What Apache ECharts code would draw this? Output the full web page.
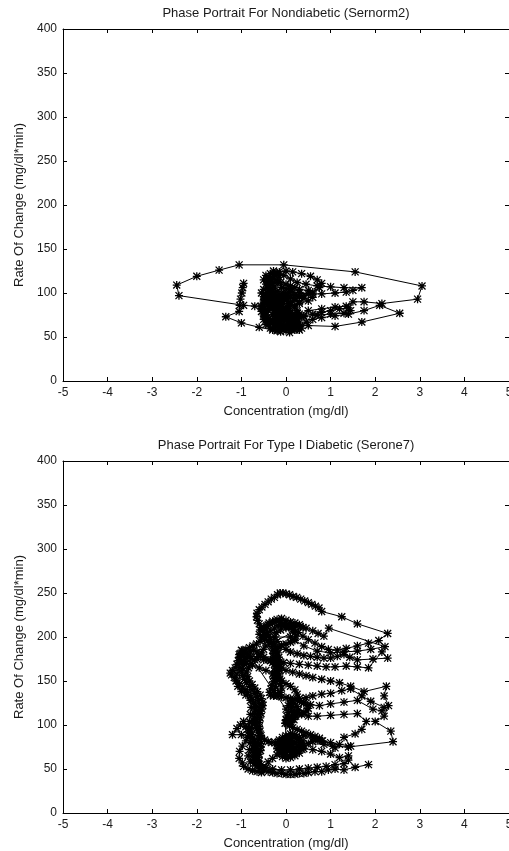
<!DOCTYPE html>
<html>
<head>
<meta charset="utf-8">
<script src="https://cdn.jsdelivr.net/npm/echarts@6/dist/echarts.min.js"></script>
<style>
  html, body { margin: 0; padding: 0; background: #fff; overflow: hidden; }
  #chart { width: 509px; height: 851px; }
</style>
</head>
<body>
<div id="chart"></div>
<script>
// Axis ranges and tick steps (shared by both panels)
var concTicks = [-5, -4, -3, -2, -1, 0, 1, 2, 3, 4, 5];
var rateTicks = [0, 50, 100, 150, 200, 250, 300, 350, 400];

var titles = [
  'Phase Portrait For Nondiabetic (Sernorm2)',
  'Phase Portrait For Type I Diabetic (Serone7)'
];
var xName = 'Concentration (mg/dl)';
var yName = 'Rate Of Change (mg/dl*min)';

// Nondiabetic trajectory: [concentration, rate of change]
var nondiabetic = [
  [-0.95,111],[-0.97,106],[-0.99,100],[-1.02,93],[-1.04,86],[-1.05,79],[-1.35,73],[-1.0,66],
  [-0.6,61],[-0.3,58],[-0.12,56],[0.08,55],[0.2,58],[0.3,62],[0.45,67],[0.6,70],[0.8,72],
  [1.1,74],[1.4,76],[1.75,80],[2.1,86],[2.55,77],[1.7,67],[1.1,62],[0.5,63],[0.1,64],
  [-0.2,66],[-0.4,70],[-0.5,76],[-0.55,83],[-0.5,90],[-0.45,97],[-0.4,104],[-0.35,110],
  [-0.3,116],[-0.25,121],[-0.15,124],[0.0,125],[0.15,124],[0.35,122],[0.55,119],[0.7,115],
  [0.8,111],[0.75,106],[0.6,101],[0.4,97],[0.2,94],[0.0,92],[-0.2,90],[-0.35,86],[-0.45,81],
  [-0.45,75],[-0.4,70],[-0.3,65],[-0.15,61],[0.0,60],[0.1,62],[0.2,66],[0.25,71],[0.3,76],
  [0.5,80],[0.8,82],[1.1,84],[1.35,85],[1.5,90],[1.75,90],[2.15,88],[2.95,93],[3.05,108],
  [1.55,124],[-0.05,132],[-1.05,132],[-1.5,126],[-2.0,119],[-2.45,109],[-2.4,97],[-0.95,86],
  [-0.7,85],[-0.5,85],[-0.3,84],[-0.15,82],[-0.05,79],[0.0,75],[-0.05,71],[-0.15,68],
  [-0.3,67],[-0.4,70],[-0.5,74],[-0.55,79],[-0.55,85],[-0.5,92],[-0.45,99],[-0.4,106],
  [-0.35,112],[-0.3,118],[-0.2,122],[-0.05,120],[0.1,116],[0.25,112],[0.45,110],[0.7,108],
  [1.0,107],[1.3,106],[1.7,106],[1.5,103],[1.35,101],[1.1,100],[0.8,99],[0.5,99],[0.3,100],
  [0.1,101],[-0.05,100],[-0.2,97],[-0.3,93],[-0.35,88],[-0.3,83],[-0.2,79],[-0.1,76],
  [0.05,74],[0.2,73],[0.4,74],[0.6,76],[0.8,78],[1.0,80],[1.2,82],[1.4,83],[1.45,80],
  [1.3,77],[1.0,76],[0.7,75],[0.4,73],[0.2,70],[0.1,66],[0.0,62],[-0.1,59],[-0.2,58],
  [-0.3,60],[-0.4,64],[-0.45,69],[-0.45,75],[-0.4,81],[-0.3,87],[-0.2,92],[-0.1,96],
  [0.0,99],[0.1,102],[0.3,104],[0.5,103],[0.6,99],[0.6,95],[0.5,91],[0.3,88],[0.1,86],
  [-0.1,84],[-0.25,80],[-0.3,75],[-0.3,70],[-0.2,66],[-0.1,64],[0.05,65],[0.15,68],
  [0.2,72],[0.15,76],[0.05,79],[-0.1,80],[-0.2,78],[-0.25,74],[-0.2,70],[-0.1,68],
  [0.0,70],[0.05,73],[0.0,76],[-0.1,77],[-0.15,75],[-0.1,72],[-0.05,71],
  [-0.3,100],[-0.35,104],[-0.4,108],[-0.42,113],[-0.4,118],[-0.35,122],[-0.28,125],[-0.2,123],
  [-0.15,118],[-0.18,112],[-0.25,107],[-0.3,102],[-0.35,97],[-0.42,93],[-0.48,88],[-0.5,82],
  [-0.48,77],[-0.42,72],[-0.35,68],[-0.25,64],[-0.15,62],[-0.05,62],[0.05,60],[0.12,58],
  [0.2,60],[0.25,64],[0.22,68],[0.15,72],[0.08,76],[0.0,80],[-0.1,84],[-0.2,88],[-0.25,92],
  [-0.22,96],[-0.15,98],[-0.05,96],[0.02,92],[0.05,88],[0.02,84],[-0.05,81],[-0.15,80],
  [-0.25,82],[-0.35,84],[-0.4,88],[-0.38,93],[-0.3,96],[-0.2,95],[-0.12,91],[-0.1,87],
  [-0.15,84],[-0.25,86],[-0.3,90],[-0.5,70],[-0.45,64],[-0.35,60],[-0.2,57],[0.0,57],
  [0.15,62],[0.25,68],[0.28,74],[0.25,80],[0.18,85],[0.1,89],[0.2,92],[0.1,95],[0.0,94],
  [-0.1,91],[-0.2,86],[-0.25,80],[-0.2,74],[-0.1,70],[0.0,68],[0.1,70],[0.12,75],[0.08,80],
  [0.0,83],[-0.1,85],[-0.45,110],[-0.5,115],[-0.45,120],[-0.38,116],[-0.3,111],[-0.22,115],
  [-0.12,112],[0.0,110],[0.1,108],[0.2,106],[0.1,104],[0.0,105],[-0.1,106],[-0.2,102],
  [-0.3,97],[-0.4,95],[-0.5,96],[-0.55,100],[-0.5,104],[-0.4,100],[-0.3,92],[-0.2,83],
  [-0.1,78],[0.0,72],[0.1,66],[0.2,62],[0.3,58],[0.35,60],[0.3,66],[0.25,78],[0.2,84],
  [0.3,90],[0.4,94],[0.3,96],[0.2,98],[0.05,97],[-0.1,93]
];

// Type I diabetic trajectory: [concentration, rate of change]
var diabetic = [
  [1.85,55],[1.55,52],[1.3,49],[1.1,50],[0.95,49],[0.8,47],[0.65,47],[0.5,46],[0.4,45],
  [0.3,45],[0.2,44],[0.1,44],[0.0,44],[-0.1,45],[-0.2,45],[-0.3,46],[-0.4,47],[-0.5,49],
  [-0.58,51],[-0.65,54],[-0.7,57],[-0.73,61],[-0.74,65],[-0.73,69],[-0.72,73],[-0.72,77],
  [-0.73,81],[-0.75,85],[-0.77,89],[-0.78,93],[-0.77,97],[-0.75,101],[-0.73,105],[-0.71,109],
  [-0.7,113],[-0.69,117],[-0.7,121],[-0.72,125],[-0.76,129],[-0.8,133],[-0.86,137],[-0.92,140],
  [-0.98,143],[-1.04,147],[-1.1,151],[-1.16,154],[-1.22,157],[-1.25,159],[-1.2,162],[-1.14,165],
  [-1.1,169],[-1.07,173],[-1.05,177],[-1.03,181],[-0.97,184],[-0.9,186],[-0.82,188],[-0.74,190],
  [-0.66,192],[-0.58,195],[-0.52,199],[-0.5,203],[-0.52,207],[-0.56,211],[-0.6,215],[-0.64,219],
  [-0.66,223],[-0.65,227],[-0.6,231],[-0.54,234],[-0.47,237],[-0.4,240],[-0.33,243],[-0.26,245],
  [-0.19,248],[-0.13,250],[-0.07,250],[0.0,249],[0.08,248],[0.16,246],[0.24,245],[0.33,243],
  [0.42,241],[0.5,239],[0.58,237],[0.66,235],[0.74,233],[0.8,229],[1.25,223],[1.6,215],
  [2.28,204],[2.08,196],
  [1.85,193],[1.6,190],[1.35,187],[1.15,185],[0.95,186],[0.8,189],[0.65,193],[0.5,197],
  [0.38,201],[0.28,205],[0.18,209],[0.08,212],[-0.02,215],[-0.12,217],[-0.22,218],[-0.3,218],
  [-0.38,216],[-0.43,213],[-0.45,209],[-0.42,205],[-0.38,201],[-0.35,197],[-0.33,193],[-0.31,189],
  [-0.3,185],[-0.29,181],[-0.28,177],[-0.27,173],[-0.26,169],[-0.25,165],[-0.25,161],[-0.26,157],
  [-0.27,153],[-0.29,149],[-0.31,145],[-0.34,141],[-0.37,137],[-0.35,134],[-0.28,133],[-0.2,133],
  [-0.1,132],[0.0,131],[0.1,130],[0.2,129],[0.3,127],[0.4,125],[0.47,122],[0.5,119],[0.47,116],
  [0.4,114],[0.3,113],[0.2,112],[0.12,110],[0.05,108],[0.02,105],[0.03,102],[0.08,99],[0.15,97],
  [0.25,95],[0.35,93],[0.45,91],[0.55,89],[0.65,87],[0.75,85],[0.82,82],[1.05,76],[1.4,75],
  [2.4,81],[2.35,93],[2.0,104],[2.2,110],[2.3,122],[2.2,133],[2.25,144],
  [1.75,138],[1.45,144],[1.2,148],[1.0,150],[0.8,152],[0.6,154],[0.45,156],[0.3,158],[0.15,160],
  [0.0,162],[-0.1,165],[-0.2,168],[-0.3,171],[-0.4,174],[-0.5,177],[-0.58,180],[-0.65,183],
  [-0.72,185],[-0.8,183],[-0.86,180],[-0.9,176],[-0.93,172],[-0.96,168],[-0.98,164],[-0.99,160],
  [-0.97,156],[-0.93,152],[-0.88,148],[-0.82,144],[-0.76,140],[-0.7,136],[-0.65,132],[-0.62,128],
  [-0.6,124],[-0.6,120],[-0.61,116],[-0.63,112],[-0.65,108],[-0.66,104],[-0.66,100],[-0.65,96],
  [-0.63,92],[-0.6,88],[-0.55,85],[-0.48,83],[-0.4,81],[-0.32,80],[-0.24,80],[-0.16,81],
  [-0.08,83],[0.0,85],[0.08,87],[0.16,87],[0.24,85],[0.3,82],[0.33,78],[0.32,74],[0.28,71],
  [0.2,68],[0.12,66],[0.04,65],[-0.04,66],[-0.1,69],[-0.13,72],[-0.12,76],[-0.06,79],[0.02,80],
  [0.1,79],[0.15,76],[0.14,72],[0.08,70],[0.02,71],[0.2,72],[0.4,73],[0.6,72],[0.8,70],
  [1.0,67],[1.2,63],[1.4,65],[1.4,60],[1.3,56],[1.1,55],[0.9,53],[0.7,52],[0.5,51],[0.3,50],
  [0.1,49],[-0.1,49],[-0.3,50],[-0.45,52],[-0.55,55],[-0.6,59],[-0.62,63],[-0.6,67],[-0.57,71],
  [-0.56,75],[-0.57,79],
  [-0.7,83],[-0.85,86],[-1.0,89],[-1.2,89],[-1.1,96],[-1.02,100],[-0.95,104],[-0.9,98],
  [-0.85,92],[-0.9,82],[-0.98,76],[-1.04,70],[-1.05,62],[-0.98,57],[-0.95,53],[-0.85,50],
  [-0.75,48],[-0.65,47],[-0.55,46],
  [-0.4,58],[-0.3,62],[-0.2,66],[-0.1,72],[-0.05,77],[0.05,82],[0.2,86],[0.4,88],[0.6,85],
  [0.8,82],[1.0,80],[1.2,78],[1.45,76],[1.3,86],[1.55,90],[1.7,95],[1.8,104],[1.6,113],
  [1.3,112],[1.0,111],[0.7,110],[0.5,110],[0.35,112],[0.2,116],[0.12,120],[0.1,124],[0.15,128],
  [0.3,130],[0.45,131],[0.6,133],[0.8,135],[1.0,136],[1.25,139],[1.45,141],[1.7,133],[1.9,127],
  [2.2,120],[2.15,116],[1.95,118],
  [1.6,128],[1.3,126],[1.0,124],[0.75,122],[0.55,123],[0.4,126],[0.3,130],[0.25,135],[0.2,140],
  [0.1,144],[0.0,147],[-0.1,150],[-0.2,154],[-0.3,158],[-0.45,162],[-0.6,165],[-0.75,168],
  [-0.88,170],[-1.0,172],[-1.05,180],[-0.95,178],[-0.8,176],[-0.65,175],[-0.5,174],[-0.35,173],
  [-0.2,172],[-0.05,171],[0.1,170],[0.3,169],[0.5,168],[0.7,167],[0.9,166],[1.1,166],[1.35,167],
  [1.6,166],[1.85,165],[2.15,183],[2.28,176],[1.95,175],[1.6,174],[1.43,177],[1.3,180],[1.15,178],
  [1.0,176],[0.85,176],[0.7,177],[0.55,178],[0.4,179],[0.25,181],[0.1,183],[0.0,186],[-0.1,190],
  [-0.2,195],[-0.25,200],[-0.22,205],[-0.12,208],[0.0,210],[0.12,212],[0.22,213],[0.32,212],
  [0.45,210],[0.6,207],[0.72,204],[0.85,201],[0.96,210],[2.22,189],
  [1.9,186],[1.6,184],[1.3,183],[1.0,182],[0.7,184],[0.4,190],[0.2,196],[0.1,200],
  [-0.5,200],[-0.42,203],[-0.34,207],[-0.26,210],[-0.18,213],[-0.1,214],[-0.02,213],[0.06,211],
  [0.14,208],[0.2,205],[0.22,201],[0.18,197],[0.1,194],[0.0,192],[-0.1,191],[-0.18,188],
  [-0.22,184],[-0.22,179],[-0.2,174],[-0.18,169],[-0.17,164],[-0.18,159],[-0.2,154],[-0.22,149],
  [-0.24,144],[-0.26,139],[-0.24,135],[-0.18,134],[-0.12,137],[-0.1,142],[-0.12,147],[-0.14,152],
  [-0.15,157],[-0.14,162],[-0.13,167],[-0.14,172],[-0.16,177],[-0.18,182],[-0.2,187],[-0.25,191],
  [-0.32,194],[-0.4,196],[-0.48,197],[-0.55,199],[-0.6,203],[-0.58,208],[-0.5,211],[-0.4,214],
  [-0.3,216],[-0.2,220],[-0.1,221],[0.0,219],[0.1,217],[0.2,216],[0.3,214],[0.38,211],
  [-0.45,190],[-0.5,186],[-0.55,182],[-0.62,178],[-0.7,174],[-0.78,170],[-0.84,165],[-0.88,160],
  [-0.86,155],[-0.82,150],[-0.76,146],[-0.7,142],[-0.64,138],[-0.58,134],[-0.55,130],[-0.52,126],
  [-0.52,122],[-0.54,118],[-0.56,113],[-0.58,108],[-0.6,103],[-0.6,98],[-0.58,93],[-0.56,88],
  [-0.6,84],[-0.65,80],[-0.68,76],[-0.67,72],[-0.65,68],[-0.67,64],[-0.7,60],[-0.68,56],
  [-0.62,53],[-0.55,51],[-0.8,58],[-0.85,65],[-0.82,72],[-0.8,80],[-0.82,88],[-0.84,96],
  [-0.82,104],[-0.8,112],[-0.78,120],[-0.8,128],[-0.9,134],[-1.0,138],[-1.08,144],[-1.12,150],
  [-1.1,158],[-1.05,165],[-1.0,172],[-1.0,185],[-0.9,182],[-0.8,178],
  [0.0,118],[0.05,122],[0.1,125],[0.18,124],[0.25,121],[0.28,117],[0.25,113],[0.2,110],
  [0.15,107],[0.1,104],[0.08,101],[0.12,103],[0.18,106],[0.22,110],[0.18,114],[0.12,116],
  [0.05,114],[0.02,110],[0.0,106],[-0.02,102],
  [0.0,88],[0.1,90],[0.2,89],[0.3,86],[0.38,82],[0.4,77],[0.36,72],[0.3,68],[0.2,65],[0.1,63],
  [0.0,62],[-0.08,64],[-0.15,68],[-0.2,73],[-0.2,78],[-0.15,83],[-0.08,86],[0.0,83],[0.05,78],
  [0.05,73],[0.0,69],[-0.05,72],[-0.05,76],[0.1,82],[0.2,80],[0.25,76],[0.22,72],[0.15,69],
  [0.1,73],[0.12,78],[0.3,78],[0.5,79],[0.6,81],[0.7,82],[0.85,78],[1.1,74]
];

var panels = [nondiabetic, diabetic];

// MATLAB-style asterisk marker built from four thin bars
var asterisk = 'path://M4.2,0L5.8,0L5.8,10L4.2,10Z M0,4.2L10,4.2L10,5.8L0,5.8Z ' +
  'M1.2,0.1L9.9,8.8L8.8,9.9L0.1,1.2Z M8.8,0.1L9.9,1.2L1.2,9.9L0.1,8.8Z';

var FONT = 'Liberation Sans, Arial, sans-serif';
var TXT = '#1a1a1a';
var gridTops = [29, 461];
var gridH = 352;

var chart = echarts.init(document.getElementById('chart'), null, { renderer: 'canvas' });

var grids = [], xAxes = [], yAxes = [], series = [], titleOpts = [];

panels.forEach(function (pts, i) {
  grids.push({
    left: 63, top: gridTops[i], width: 446, height: gridH,
    containLabel: false, outerBoundsMode: 'none'
  });

  titleOpts.push({
    text: titles[i],
    left: 286, top: gridTops[i] - 22, textAlign: 'center', padding: 0,
    textStyle: { fontFamily: FONT, fontSize: 13, fontWeight: 'normal', color: TXT }
  });

  var tickStyle = { show: true, inside: true, length: 4, lineStyle: { color: '#000', width: 1 } };
  // bottom concentration axis
  xAxes.push({
    type: 'value', gridIndex: i, position: 'bottom',
    min: concTicks[0], max: concTicks[concTicks.length - 1], interval: 1,
    name: xName, nameLocation: 'middle', nameGap: 24,
    nameTextStyle: { fontFamily: FONT, fontSize: 13, color: TXT },
    axisLine: { show: true, onZero: false, lineStyle: { color: '#000', width: 1 } },
    axisTick: tickStyle,
    axisLabel: { fontFamily: FONT, fontSize: 12, color: TXT, margin: 6, showMaxLabel: true, showMinLabel: true },
    splitLine: { show: false }
  });
  // top box edge with ticks
  xAxes.push({
    type: 'value', gridIndex: i, position: 'top',
    min: concTicks[0], max: concTicks[concTicks.length - 1], interval: 1,
    axisLine: { show: true, onZero: false, lineStyle: { color: '#000', width: 1 } },
    axisTick: tickStyle, axisLabel: { show: false }, splitLine: { show: false }
  });
  // left rate axis
  yAxes.push({
    type: 'value', gridIndex: i, position: 'left',
    min: rateTicks[0], max: rateTicks[rateTicks.length - 1], interval: 50,
    name: yName, nameLocation: 'middle', nameGap: 32,
    nameTextStyle: { fontFamily: FONT, fontSize: 13, color: TXT },
    axisLine: { show: true, onZero: false, lineStyle: { color: '#000', width: 1 } },
    axisTick: tickStyle,
    axisLabel: { fontFamily: FONT, fontSize: 12, color: TXT, margin: 6 },
    splitLine: { show: false }
  });
  // right box edge with ticks
  yAxes.push({
    type: 'value', gridIndex: i, position: 'right',
    min: rateTicks[0], max: rateTicks[rateTicks.length - 1], interval: 50,
    axisLine: { show: true, onZero: false, lineStyle: { color: '#000', width: 1 } },
    axisTick: tickStyle, axisLabel: { show: false }, splitLine: { show: false }
  });

  series.push({
    type: 'line',
    xAxisIndex: i * 2, yAxisIndex: i * 2,
    data: pts,
    symbol: asterisk, symbolSize: 8, showAllSymbol: true,
    itemStyle: { color: '#000' },
    lineStyle: { color: '#000', width: 1 },
    smooth: false, clip: false, silent: true
  });
});

chart.setOption({
  animation: false,
  backgroundColor: '#fff',
  title: titleOpts,
  grid: grids,
  xAxis: xAxes,
  yAxis: yAxes,
  series: series
});
</script>
</body>
</html>
